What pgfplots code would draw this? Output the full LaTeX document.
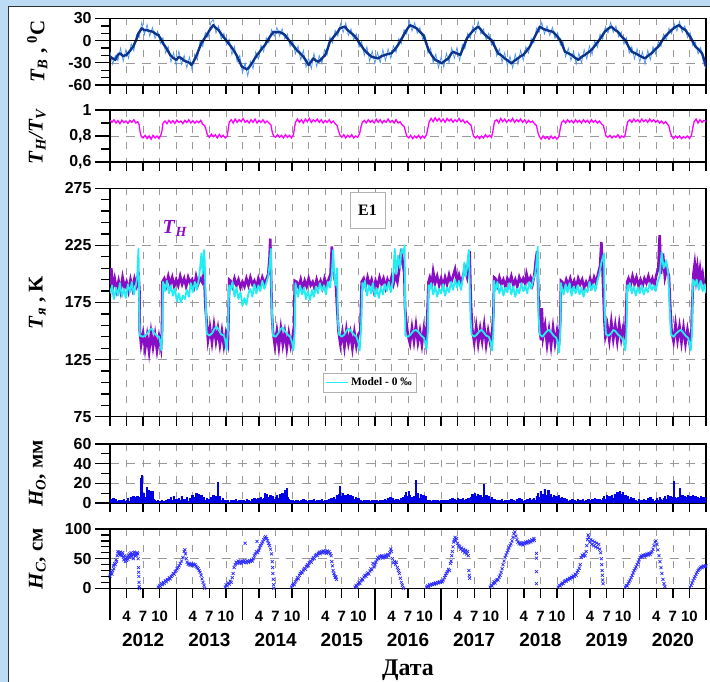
\documentclass[border=0pt]{standalone}
\usepackage{fontspec}
\setmainfont{Liberation Serif}
\newfontfamily\arial{Liberation Sans}
\usepackage{pgfplots}
\pgfplotsset{compat=1.18}
\definecolor{bgblue}{HTML}{BCDCF6}
\definecolor{tbdark}{HTML}{0B348F}
\definecolor{tblight}{HTML}{4F95EE}
\definecolor{ratio}{HTML}{FF00FF}
\definecolor{tnpurple}{HTML}{8A0DC6}
\definecolor{model}{HTML}{22EEF2}
\definecolor{hoblue}{HTML}{0000E6}
\definecolor{hcblue}{HTML}{2B2BFF}
\definecolor{gridgray}{HTML}{9A9A9A}
\pgfplotsset{
  panel/.style={
    scale only axis, width=596bp, xmin=0, xmax=9, anchor=south west,
    axis line style={line width=1.4bp},
    tick align=outside, xtick pos=left, ytick pos=left,
    major tick length=15bp,
    every tick/.style={black, line width=1.3bp},
    xtick=\empty, ymajorgrids=true,
    major grid style={gridgray, line width=0.6bp, dash pattern=on 9bp off 7bp},
    /pgf/number format/assume math mode=true,
    yticklabel style={font=\arial\bfseries\fontsize{16}{16}\selectfont},
    every axis y label/.style={at={(axis description cs:-0.122,0.5)}, anchor=center, rotate=90, font=\bfseries\fontsize{21}{21}\selectfont},
  },
  overlay/.style={
    scale only axis, width=596bp, height=59.3bp, xmin=0, xmax=9, ymin=0, ymax=1,
    at={(110bp,93.7bp)}, anchor=south west,
    axis x line*=bottom, hide y axis, axis line style={draw=none},
    tick align=outside, every tick/.style={black, line width=1.3bp},
    /pgf/number format/assume math mode=true,
  },
}
\begin{document}
\begin{tikzpicture}
\path[use as bounding box] (0,0) rectangle (710bp,682bp);
\fill[bgblue] (0,0) rectangle (710bp,682bp);
\filldraw[fill=white, draw=black!80, line width=0.9bp] (8.5bp,-5bp) rectangle (720bp,675.5bp);

% vertical dashed grid (every 3 months) behind the data
\begin{scope}[gridgray, line width=0.6bp, dash pattern=on 7bp off 9bp]
\foreach \yb/\yt in {597/663.5, 520/572, 265.3/493.7, 179/238, 93.7/153}{
  \foreach \i in {1,...,35}{
    \pgfmathsetmacro\xx{110+\i*16.55556}
    \draw (\xx bp,\yt bp) -- (\xx bp,\yb bp);
  }}
\end{scope}

% ---------- Panel 1: air temperature ----------
\begin{axis}[panel, at={(110bp,597bp)}, height=66.5bp, ymin=-60, ymax=30,
  ytick={-60,-30,0,30}, yticklabels={-60,-30,0,30},
  ylabel={\textit{T}\textsubscript{\textit{B}} , \textsuperscript{0}C}]
\addplot[tblight, line width=0.7bp] coordinates {
(0.00,-15) (0.04,-32) (0.08,-20) (0.12,-27) (0.16,-10) (0.20,-28) (0.24,-12) (0.28,-24) (0.32,-4) (0.36,-14) (0.40,8) (0.44,4) (0.48,25) (0.52,8) (0.56,22) (0.60,6) (0.64,18) (0.68,3) (0.72,13) (0.76,-4) (0.80,4) (0.84,-17) (0.88,-8) (0.92,-29) (0.96,-16) (1.00,-34) (1.04,-14) (1.08,-32) (1.12,-20) (1.16,-37) (1.20,-22) (1.24,-40) (1.28,-18) (1.32,-26) (1.36,0) (1.40,-8) (1.44,11) (1.48,4) (1.52,24) (1.56,29) (1.60,10) (1.64,20) (1.68,2) (1.72,10) (1.76,-6) (1.80,2) (1.84,-19) (1.88,-8) (1.92,-29) (1.96,-20) (2.00,-44) (2.04,-30) (2.08,-48) (2.12,-28) (2.16,-38) (2.20,-15) (2.24,-25) (2.28,-6) (2.32,-15) (2.36,4) (2.40,-3) (2.44,15) (2.48,6) (2.52,18) (2.56,6) (2.60,16) (2.64,2) (2.68,9) (2.72,-8) (2.76,0) (2.80,-18) (2.84,-7) (2.88,-26) (2.92,-13) (2.96,-36) (3.00,-24) (3.04,-38) (3.08,-17) (3.12,-35) (3.16,-20) (3.20,-31) (3.24,-12) (3.28,-19) (3.32,5) (3.36,-3) (3.40,14) (3.44,6) (3.48,23) (3.52,11) (3.56,24) (3.60,7) (3.64,16) (3.68,1) (3.72,9) (3.76,-9) (3.80,-1) (3.84,-20) (3.88,-8) (3.92,-28) (3.96,-14) (4.00,-31) (4.04,-16) (4.08,-30) (4.12,-12) (4.16,-27) (4.20,-11) (4.24,-24) (4.28,-7) (4.32,-16) (4.36,3) (4.40,-4) (4.44,15) (4.48,9) (4.52,27) (4.56,13) (4.60,24) (4.64,10) (4.68,18) (4.72,2) (4.76,6) (4.80,-17) (4.84,-10) (4.88,-30) (4.92,-18) (4.96,-37) (5.00,-22) (5.04,-36) (5.08,-17) (5.12,-30) (5.16,-10) (5.20,-24) (5.24,-9) (5.28,-27) (5.32,-5) (5.36,-11) (5.40,10) (5.44,3) (5.48,20) (5.52,10) (5.56,26) (5.60,9) (5.64,16) (5.68,1) (5.72,10) (5.76,-6) (5.80,1) (5.84,-21) (5.88,-11) (5.92,-29) (5.96,-16) (6.00,-34) (6.04,-21) (6.08,-37) (6.12,-18) (6.16,-32) (6.20,-13) (6.24,-27) (6.28,-8) (6.32,-17) (6.36,3) (6.40,-3) (6.44,17) (6.48,11) (6.52,25) (6.56,9) (6.60,20) (6.64,7) (6.68,18) (6.72,3) (6.76,11) (6.80,-6) (6.84,-1) (6.88,-22) (6.92,-10) (6.96,-27) (7.00,-14) (7.04,-32) (7.08,-17) (7.12,-30) (7.16,-12) (7.20,-25) (7.24,-7) (7.28,-19) (7.32,0) (7.36,-9) (7.40,9) (7.44,2) (7.48,19) (7.52,10) (7.56,25) (7.60,11) (7.64,20) (7.68,5) (7.72,12) (7.76,-5) (7.80,4) (7.84,-17) (7.88,-8) (7.92,-25) (7.96,-11) (8.00,-29) (8.04,-15) (8.08,-32) (8.12,-13) (8.16,-26) (8.20,-8) (8.24,-18) (8.28,-1) (8.32,-8) (8.36,9) (8.40,1) (8.44,17) (8.48,9) (8.52,23) (8.56,13) (8.60,26) (8.64,11) (8.68,20) (8.72,4) (8.76,11) (8.80,-7) (8.84,-2) (8.88,-18) (8.92,-9) (8.96,-30) (9.00,-38)};
\addplot[tbdark, line width=2.4bp, line join=round] coordinates {
(0.00,-21.7) (0.04,-24) (0.08,-26) (0.12,-19) (0.15,-17) (0.20,-21) (0.25,-19) (0.30,-14) (0.35,-8) (0.40,2) (0.43,10) (0.48,16.7) (0.52,14) (0.55,14.4) (0.60,13) (0.65,12) (0.69,9) (0.73,7.7) (0.77,2) (0.80,-3.6) (0.85,-10) (0.91,-19.4) (0.95,-23) (1.00,-26) (1.04,-22) (1.08,-24) (1.12,-27) (1.16,-28.5) (1.20,-30) (1.23,-33) (1.27,-27) (1.31,-19.4) (1.35,-10) (1.38,-3.6) (1.42,2) (1.46,7.7) (1.51,15) (1.56,21) (1.60,17) (1.64,14.4) (1.68,9) (1.71,5.4) (1.76,0) (1.81,-5.9) (1.86,-12) (1.91,-19.4) (1.95,-27) (1.99,-35) (2.03,-37) (2.07,-39) (2.10,-36) (2.14,-31) (2.18,-25) (2.22,-19.4) (2.26,-15) (2.30,-10) (2.34,-6) (2.37,-1.4) (2.42,6) (2.47,12) (2.51,11) (2.55,12) (2.60,10) (2.64,7.7) (2.68,3) (2.72,-1.4) (2.77,-7) (2.82,-12.6) (2.87,-17) (2.92,-21.7) (2.96,-27) (3.00,-33) (3.04,-28) (3.07,-24) (3.11,-27) (3.15,-28.5) (3.20,-24) (3.25,-19.4) (3.29,-10) (3.32,-1.4) (3.36,3) (3.40,7.7) (3.44,12) (3.47,16.7) (3.51,18) (3.55,19) (3.58,15) (3.62,12) (3.66,9) (3.70,5.4) (3.72,3.2) (3.78,-5) (3.84,-12.6) (3.90,-18) (3.95,-21.7) (4.00,-23) (4.05,-24) (4.10,-21) (4.15,-19.4) (4.20,-18) (4.25,-17) (4.30,-12) (4.35,-5.9) (4.40,2) (4.45,10) (4.49,16) (4.53,21) (4.58,19) (4.63,16.7) (4.68,12) (4.73,7.7) (4.77,-2) (4.81,-12.6) (4.86,-20) (4.91,-26) (4.96,-28) (5.01,-30.8) (5.06,-27) (5.11,-24) (5.15,-18) (5.18,-15) (5.23,-17) (5.29,-19.4) (5.34,-8) (5.39,3.2) (5.44,9) (5.49,14.4) (5.53,17) (5.56,19) (5.60,15) (5.64,10) (5.70,5) (5.76,0.8) (5.81,-8) (5.86,-17) (5.91,-20) (5.96,-24) (6.01,-27) (6.06,-30.8) (6.11,-27) (6.16,-24) (6.20,-21) (6.24,-19.4) (6.29,-14) (6.34,-8) (6.39,1) (6.44,10) (6.47,15) (6.49,19) (6.54,16) (6.59,14.4) (6.64,13) (6.69,12) (6.75,6) (6.80,0.8) (6.84,-8) (6.87,-15) (6.92,-17) (6.97,-19.4) (7.02,-23) (7.07,-26) (7.12,-22) (7.17,-19.4) (7.22,-16) (7.27,-12.6) (7.32,-7) (7.37,-1.4) (7.42,5) (7.47,12) (7.52,16) (7.57,19) (7.62,15) (7.67,12) (7.72,6) (7.78,0.8) (7.83,-8) (7.88,-15) (7.93,-17) (7.98,-19.4) (8.03,-22) (8.08,-24) (8.13,-20) (8.18,-17) (8.23,-12) (8.28,-8) (8.33,-1) (8.38,5.4) (8.43,10) (8.48,14.4) (8.53,18) (8.59,21) (8.64,17) (8.69,14.4) (8.73,9) (8.76,5.4) (8.80,-1) (8.84,-8) (8.89,-12) (8.94,-17) (8.97,-25) (9.00,-35)};
\addplot[black, line width=1.2bp] coordinates {(0,0) (9,0)};
\end{axis}

% ---------- Panel 2: TH/TV ----------
\begin{axis}[panel, at={(110bp,520bp)}, height=52bp, ymin=0.6, ymax=1,
  ytick={0.6,0.8,1}, yticklabels={{0,6},{0,8},1},
  ylabel={\textit{T}\textsubscript{\textit{H}}\textit{/T}\textsubscript{\textit{V}}}]
\addplot[ratio, line width=1.3bp] coordinates {
(0.00,0.92) (0.03,0.905) (0.06,0.925) (0.09,0.90) (0.12,0.918) (0.15,0.895) (0.18,0.922) (0.21,0.903) (0.24,0.915) (0.27,0.898) (0.30,0.92) (0.33,0.905) (0.36,0.925) (0.39,0.90) (0.42,0.91) (0.44,0.885) (0.455,0.83) (0.47,0.80) (0.50,0.785) (0.53,0.805) (0.56,0.78) (0.59,0.80) (0.62,0.775) (0.65,0.805) (0.68,0.785) (0.71,0.80) (0.74,0.78) (0.77,0.81) (0.785,0.84) (0.80,0.90)
(0.83,0.915) (0.86,0.895) (0.89,0.92) (0.92,0.90) (0.95,0.918) (0.98,0.897) (1.01,0.922) (1.04,0.905) (1.07,0.915) (1.10,0.895) (1.13,0.92) (1.16,0.903) (1.19,0.925) (1.22,0.90) (1.25,0.918) (1.28,0.898) (1.31,0.915) (1.34,0.902) (1.37,0.92) (1.40,0.89) (1.43,0.88) (1.455,0.84) (1.47,0.81) (1.50,0.79) (1.53,0.815) (1.56,0.795) (1.59,0.81) (1.62,0.785) (1.65,0.812) (1.68,0.79) (1.71,0.805) (1.74,0.785) (1.77,0.80) (1.785,0.85) (1.80,0.905)
(1.83,0.925) (1.86,0.90) (1.89,0.93) (1.92,0.905) (1.95,0.925) (1.98,0.91) (2.01,0.935) (2.04,0.905) (2.07,0.92) (2.10,0.90) (2.13,0.925) (2.16,0.905) (2.19,0.93) (2.22,0.90) (2.25,0.92) (2.28,0.905) (2.31,0.925) (2.34,0.90) (2.37,0.915) (2.40,0.90) (2.43,0.885) (2.45,0.83) (2.47,0.80) (2.50,0.79) (2.53,0.81) (2.56,0.79) (2.59,0.805) (2.62,0.785) (2.65,0.81) (2.68,0.79) (2.71,0.805) (2.74,0.785) (2.77,0.81) (2.785,0.86) (2.80,0.905)
(2.83,0.93) (2.86,0.905) (2.89,0.925) (2.92,0.90) (2.95,0.93) (2.98,0.91) (3.01,0.935) (3.04,0.905) (3.07,0.925) (3.10,0.91) (3.13,0.93) (3.16,0.905) (3.19,0.925) (3.22,0.90) (3.25,0.92) (3.28,0.905) (3.31,0.925) (3.34,0.90) (3.37,0.915) (3.40,0.895) (3.43,0.88) (3.45,0.84) (3.47,0.81) (3.50,0.79) (3.53,0.81) (3.56,0.785) (3.59,0.805) (3.62,0.79) (3.65,0.81) (3.68,0.785) (3.71,0.80) (3.74,0.79) (3.77,0.82) (3.79,0.87) (3.81,0.905)
(3.84,0.92) (3.87,0.90) (3.90,0.925) (3.93,0.905) (3.96,0.92) (3.99,0.90) (4.02,0.93) (4.05,0.905) (4.08,0.925) (4.11,0.90) (4.14,0.92) (4.17,0.905) (4.20,0.93) (4.23,0.905) (4.26,0.92) (4.29,0.90) (4.32,0.925) (4.35,0.90) (4.38,0.91) (4.41,0.885) (4.44,0.875) (4.46,0.84) (4.48,0.80) (4.51,0.785) (4.54,0.805) (4.57,0.78) (4.60,0.80) (4.63,0.785) (4.66,0.805) (4.69,0.78) (4.72,0.80) (4.75,0.785) (4.78,0.81) (4.80,0.86) (4.82,0.91)
(4.85,0.935) (4.88,0.91) (4.91,0.94) (4.94,0.915) (4.97,0.935) (5.00,0.91) (5.03,0.93) (5.06,0.905) (5.09,0.935) (5.12,0.915) (5.15,0.93) (5.18,0.905) (5.21,0.925) (5.24,0.91) (5.27,0.935) (5.30,0.91) (5.33,0.925) (5.36,0.90) (5.39,0.915) (5.42,0.895) (5.45,0.885) (5.47,0.84) (5.49,0.80) (5.52,0.785) (5.55,0.80) (5.58,0.78) (5.61,0.80) (5.64,0.785) (5.67,0.81) (5.70,0.79) (5.73,0.805) (5.76,0.79) (5.78,0.83) (5.795,0.88) (5.81,0.915)
(5.84,0.925) (5.87,0.90) (5.90,0.935) (5.93,0.91) (5.96,0.93) (5.99,0.905) (6.02,0.925) (6.05,0.91) (6.08,0.935) (6.11,0.905) (6.14,0.925) (6.17,0.91) (6.20,0.93) (6.23,0.905) (6.26,0.925) (6.29,0.90) (6.32,0.92) (6.35,0.905) (6.38,0.915) (6.41,0.895) (6.44,0.88) (6.46,0.83) (6.48,0.80) (6.51,0.775) (6.54,0.80) (6.57,0.78) (6.60,0.795) (6.63,0.775) (6.66,0.80) (6.69,0.78) (6.72,0.795) (6.75,0.775) (6.78,0.80) (6.80,0.86) (6.82,0.905)
(6.85,0.92) (6.88,0.90) (6.91,0.925) (6.94,0.905) (6.97,0.92) (7.00,0.90) (7.03,0.925) (7.06,0.905) (7.09,0.92) (7.12,0.90) (7.15,0.925) (7.18,0.905) (7.21,0.92) (7.24,0.90) (7.27,0.925) (7.30,0.905) (7.33,0.92) (7.36,0.90) (7.39,0.915) (7.42,0.895) (7.45,0.88) (7.47,0.84) (7.49,0.80) (7.52,0.79) (7.55,0.805) (7.58,0.785) (7.61,0.80) (7.64,0.79) (7.67,0.81) (7.70,0.785) (7.73,0.80) (7.76,0.79) (7.78,0.81) (7.80,0.87) (7.82,0.91)
(7.85,0.925) (7.88,0.905) (7.91,0.93) (7.94,0.91) (7.97,0.925) (8.00,0.905) (8.03,0.93) (8.06,0.91) (8.09,0.925) (8.12,0.905) (8.15,0.93) (8.18,0.91) (8.21,0.925) (8.24,0.905) (8.27,0.92) (8.30,0.90) (8.33,0.915) (8.36,0.895) (8.39,0.91) (8.42,0.89) (8.44,0.875) (8.46,0.83) (8.48,0.80) (8.51,0.78) (8.54,0.80) (8.57,0.785) (8.60,0.80) (8.63,0.78) (8.66,0.795) (8.69,0.785) (8.72,0.80) (8.75,0.78) (8.78,0.805) (8.80,0.86) (8.82,0.91)
(8.85,0.93) (8.88,0.90) (8.91,0.925) (8.94,0.905) (8.97,0.92) (9.00,0.91)};
\end{axis}

% ---------- Panel 3: T ----------
\begin{axis}[panel, at={(110bp,265.3bp)}, height=228.4bp, ymin=75, ymax=275,
  ytick={75,125,175,225,275},
  ylabel={\textit{T}\textsubscript{\textit{я}} , K},
  legend style={at={(0.357,0.191)}, anchor=north west, draw=gray!60, fill=white,
    font=\bfseries\fontsize{11.5}{11.5}\selectfont, inner sep=2.5bp, row sep=0pt},
  legend image code/.code={\draw[#1, line width=1.6bp] (0bp,0bp) -- (22bp,0bp);}]
\addplot[tnpurple, line width=2.6bp, forget plot] coordinates {
(0.00,190) (0.02,205) (0.04,188) (0.07,196) (0.10,186) (0.13,194) (0.16,185) (0.19,197) (0.22,188) (0.25,193) (0.28,185) (0.31,195) (0.34,187) (0.37,196) (0.40,190) (0.42,198) (0.43,202) (0.445,185) (0.45,150) (0.47,138) (0.50,148) (0.53,134) (0.56,146) (0.59,132) (0.62,149) (0.65,136) (0.68,147) (0.71,133) (0.74,145) (0.77,135) (0.785,150) (0.79,193)
(0.82,196) (0.85,190) (0.88,198) (0.91,191) (0.94,197) (0.97,189) (1.00,195) (1.03,190) (1.06,198) (1.09,191) (1.12,196) (1.15,189) (1.18,197) (1.21,192) (1.24,195) (1.27,189) (1.30,198) (1.33,191) (1.36,196) (1.39,193) (1.42,205) (1.44,172) (1.46,158) (1.48,142) (1.51,153) (1.54,140) (1.57,155) (1.60,141) (1.63,152) (1.66,138) (1.69,150) (1.72,137) (1.75,148) (1.78,140) (1.79,160) (1.80,195)
(1.82,194) (1.85,189) (1.88,196) (1.91,190) (1.94,195) (1.97,188) (2.00,193) (2.03,189) (2.06,196) (2.09,190) (2.12,197) (2.15,191) (2.18,194) (2.21,188) (2.24,196) (2.27,190) (2.30,197) (2.33,192) (2.36,195) (2.39,200) (2.41,215) (2.42,231) (2.43,205) (2.445,165) (2.46,150) (2.49,137) (2.52,150) (2.55,136) (2.58,152) (2.61,138) (2.64,149) (2.67,135) (2.70,148) (2.73,137) (2.76,146) (2.78,155) (2.79,194)
(2.82,193) (2.85,188) (2.88,195) (2.91,187) (2.94,194) (2.97,189) (3.00,196) (3.03,190) (3.06,193) (3.09,187) (3.12,195) (3.15,189) (3.18,194) (3.21,188) (3.24,196) (3.27,190) (3.30,195) (3.33,200) (3.35,224) (3.37,205) (3.39,196) (3.41,192) (3.43,170) (3.45,150) (3.48,138) (3.51,149) (3.54,136) (3.57,151) (3.60,139) (3.63,148) (3.66,135) (3.69,149) (3.72,137) (3.75,147) (3.78,150) (3.80,193)
(3.83,196) (3.86,189) (3.89,197) (3.92,190) (3.95,195) (3.98,186) (4.01,194) (4.04,189) (4.07,197) (4.10,191) (4.13,196) (4.16,188) (4.19,195) (4.22,190) (4.25,197) (4.28,191) (4.31,199) (4.34,193) (4.37,205) (4.40,222) (4.42,210) (4.445,200) (4.455,171) (4.47,160) (4.50,146) (4.53,139) (4.56,153) (4.59,141) (4.62,155) (4.65,140) (4.68,150) (4.71,138) (4.74,152) (4.77,140) (4.79,160) (4.81,193)
(4.83,197) (4.86,191) (4.88,202) (4.91,192) (4.94,198) (4.97,190) (5.00,196) (5.03,189) (5.06,197) (5.09,191) (5.12,199) (5.15,192) (5.18,198) (5.21,204) (5.24,193) (5.27,199) (5.30,192) (5.33,198) (5.36,205) (5.39,198) (5.41,212) (5.43,220) (5.45,175) (5.47,152) (5.50,140) (5.53,154) (5.56,139) (5.59,152) (5.62,141) (5.65,155) (5.68,138) (5.71,150) (5.74,140) (5.77,148) (5.79,165) (5.80,197)
(5.82,196) (5.85,190) (5.88,197) (5.91,191) (5.94,195) (5.97,189) (6.00,196) (6.03,192) (6.06,198) (6.09,190) (6.12,195) (6.15,189) (6.18,197) (6.21,192) (6.24,196) (6.27,191) (6.29,200) (6.32,193) (6.35,197) (6.38,191) (6.41,200) (6.43,212) (6.45,220) (6.47,180) (6.49,150) (6.51,142) (6.52,170) (6.54,145) (6.57,155) (6.60,138) (6.63,151) (6.66,137) (6.69,153) (6.72,139) (6.75,150) (6.78,138) (6.80,160) (6.81,194)
(6.83,193) (6.86,188) (6.89,195) (6.92,190) (6.95,196) (6.98,189) (7.01,194) (7.04,188) (7.07,196) (7.10,191) (7.13,195) (7.16,188) (7.19,193) (7.22,189) (7.25,196) (7.28,190) (7.31,197) (7.34,192) (7.37,200) (7.40,207) (7.42,228) (7.44,200) (7.465,160) (7.48,146) (7.51,155) (7.54,142) (7.57,158) (7.60,143) (7.63,155) (7.66,141) (7.69,156) (7.72,143) (7.75,153) (7.78,145) (7.79,160) (7.81,193)
(7.83,196) (7.86,190) (7.89,198) (7.92,191) (7.95,197) (7.98,190) (8.01,195) (8.04,189) (8.07,196) (8.10,192) (8.13,198) (8.16,191) (8.19,196) (8.22,190) (8.25,199) (8.28,205) (8.30,234) (8.32,200) (8.35,218) (8.38,197) (8.41,205) (8.44,198) (8.46,172) (8.48,150) (8.51,141) (8.54,156) (8.57,142) (8.60,154) (8.63,140) (8.66,153) (8.69,139) (8.72,151) (8.75,140) (8.78,148) (8.79,170) (8.81,200)
(8.83,209) (8.85,196) (8.87,206) (8.89,195) (8.91,204) (8.93,194) (8.95,200) (8.97,191) (9.00,190)};
\addplot[model, line width=1.8bp, line join=round] coordinates {
(0.00,183) (0.03,190) (0.06,178) (0.09,188) (0.12,181) (0.15,192) (0.18,180) (0.21,187) (0.24,179) (0.27,191) (0.30,184) (0.33,193) (0.36,182) (0.39,190) (0.41,196) (0.42,210) (0.43,222) (0.44,180) (0.45,146) (0.50,145) (0.55,147) (0.60,151) (0.63,152) (0.66,149) (0.70,146) (0.74,145) (0.76,140) (0.775,133) (0.79,150) (0.80,193)
(0.83,185) (0.86,194) (0.89,183) (0.92,190) (0.95,181) (0.98,187) (1.01,176) (1.04,183) (1.07,175) (1.10,181) (1.13,178) (1.16,186) (1.19,180) (1.22,192) (1.25,184) (1.28,193) (1.31,186) (1.34,195) (1.36,205) (1.38,218) (1.40,200) (1.42,221) (1.43,212) (1.445,175) (1.46,148) (1.50,146) (1.54,148) (1.58,152) (1.61,154) (1.64,151) (1.68,147) (1.72,146) (1.74,142) (1.76,133) (1.78,150) (1.80,190)
(1.82,186) (1.85,193) (1.88,180) (1.91,188) (1.94,178) (1.97,184) (2.00,172) (2.03,179) (2.06,173) (2.09,183) (2.12,187) (2.15,180) (2.18,191) (2.21,183) (2.24,190) (2.27,185) (2.30,194) (2.33,187) (2.36,192) (2.39,198) (2.41,208) (2.43,222) (2.44,175) (2.46,146) (2.50,145) (2.54,148) (2.58,152) (2.61,153) (2.64,150) (2.68,147) (2.72,145) (2.75,140) (2.77,133) (2.79,150) (2.80,192)
(2.81,188) (2.84,180) (2.87,190) (2.90,182) (2.93,188) (2.96,178) (2.99,185) (3.02,177) (3.05,186) (3.08,180) (3.11,189) (3.14,183) (3.17,192) (3.20,185) (3.23,190) (3.26,182) (3.29,193) (3.32,188) (3.35,200) (3.37,221) (3.39,195) (3.41,190) (3.43,205) (3.44,160) (3.46,147) (3.50,145) (3.54,147) (3.58,151) (3.61,152) (3.64,150) (3.68,147) (3.72,145) (3.75,140) (3.77,133) (3.79,150) (3.81,192)
(3.82,186) (3.85,194) (3.88,181) (3.91,190) (3.94,183) (3.97,192) (4.00,180) (4.03,187) (4.06,179) (4.09,189) (4.12,182) (4.15,191) (4.18,185) (4.21,193) (4.24,184) (4.27,192) (4.30,222) (4.32,200) (4.35,216) (4.38,205) (4.40,222) (4.43,218) (4.45,225) (4.46,146) (4.50,145) (4.54,147) (4.58,150) (4.62,151) (4.66,149) (4.70,146) (4.74,144) (4.76,140) (4.78,134) (4.80,150) (4.81,190)
(4.82,185) (4.85,192) (4.88,182) (4.91,189) (4.94,180) (4.97,187) (5.00,183) (5.03,191) (5.06,181) (5.09,188) (5.12,184) (5.15,193) (5.18,186) (5.21,195) (5.24,188) (5.27,194) (5.30,186) (5.33,197) (5.35,210) (5.37,198) (5.39,205) (5.42,221) (5.445,160) (5.46,147) (5.50,145) (5.54,147) (5.58,150) (5.61,151) (5.64,149) (5.68,146) (5.72,145) (5.75,140) (5.77,133) (5.79,150) (5.80,194)
(5.82,185) (5.85,193) (5.88,183) (5.91,190) (5.94,181) (5.97,188) (6.00,184) (6.03,192) (6.06,182) (6.09,189) (6.12,180) (6.15,187) (6.18,183) (6.21,192) (6.24,185) (6.27,190) (6.30,183) (6.33,193) (6.36,187) (6.39,195) (6.42,200) (6.44,210) (6.46,224) (6.47,165) (6.49,147) (6.53,145) (6.57,148) (6.60,150) (6.63,151) (6.66,149) (6.70,146) (6.74,144) (6.76,140) (6.78,131) (6.80,150) (6.81,192)
(6.82,188) (6.85,182) (6.88,191) (6.91,184) (6.94,192) (6.97,181) (7.00,189) (7.03,183) (7.06,190) (7.09,182) (7.12,188) (7.15,180) (7.18,187) (7.21,184) (7.24,193) (7.27,186) (7.30,191) (7.33,185) (7.36,194) (7.39,200) (7.42,210) (7.46,218) (7.47,165) (7.49,147) (7.53,146) (7.57,148) (7.60,151) (7.63,150) (7.67,147) (7.71,145) (7.75,142) (7.78,133) (7.80,150) (7.81,190)
(7.82,185) (7.85,192) (7.88,183) (7.91,189) (7.94,181) (7.97,188) (8.00,183) (8.03,190) (8.06,182) (8.09,188) (8.12,184) (8.15,192) (8.18,186) (8.21,190) (8.24,185) (8.27,193) (8.30,198) (8.33,219) (8.36,205) (8.40,212) (8.43,200) (8.455,165) (8.47,147) (8.51,145) (8.55,148) (8.59,150) (8.62,151) (8.65,149) (8.69,146) (8.73,144) (8.75,140) (8.77,133) (8.79,150) (8.80,195)
(8.83,190) (8.86,195) (8.89,186) (8.92,194) (8.95,185) (8.98,191) (9.00,183)};
\addlegendentry{Model - 0 ‰}
\node[draw=gray!60, fill=white, minimum width=35bp, minimum height=36bp, inner sep=0pt,
  font=\bfseries\fontsize{16}{16}\selectfont] at (rel axis cs:0.432,0.905) {E1};
\node[text=tnpurple, font=\bfseries\fontsize{20}{20}\selectfont] at (rel axis cs:0.109,0.826)
  {\textit{T}\textsubscript{\textit{H}}};
\end{axis}

% ---------- Panel 4: precipitation ----------
\begin{axis}[panel, at={(110bp,179bp)}, height=59bp, ymin=0, ymax=60,
  ytick={0,20,40,60},
  ylabel={\textit{H}\textsubscript{\textit{O}}, мм}]
\addplot[hoblue, fill=hoblue, const plot, line width=0.5bp] coordinates {
(0.00,4) (0.02,2) (0.04,5) (0.06,3) (0.08,4) (0.10,2) (0.12,3) (0.14,1) (0.16,3) (0.18,2) (0.20,4) (0.22,2) (0.24,3) (0.26,5) (0.28,2) (0.30,6) (0.32,4) (0.34,7) (0.36,5) (0.38,6) (0.40,7) (0.42,5) (0.44,6) (0.455,25) (0.465,12) (0.475,28) (0.485,8) (0.50,10) (0.52,6) (0.545,16) (0.56,9) (0.575,13) (0.59,7) (0.605,12) (0.62,5) (0.635,12) (0.65,4) (0.67,3) (0.69,2) (0.71,3) (0.73,1) (0.75,2) (0.77,3) (0.79,1) (0.81,2) (0.83,3) (0.85,2) (0.87,4) (0.89,2) (0.91,6) (0.93,3) (0.95,7) (0.97,2)
(0.99,4) (1.01,2) (1.03,5) (1.05,3) (1.07,7) (1.09,2) (1.11,4) (1.13,3) (1.15,6) (1.17,2) (1.19,5) (1.21,3) (1.23,8) (1.25,4) (1.27,6) (1.29,10) (1.31,7) (1.33,9) (1.35,5) (1.37,8) (1.39,4) (1.41,6) (1.43,3) (1.45,5) (1.47,2) (1.49,4) (1.51,6) (1.53,3) (1.55,8) (1.57,4) (1.59,7) (1.61,3) (1.62,21) (1.63,5) (1.65,7) (1.67,3) (1.69,5) (1.71,2) (1.73,3) (1.75,2) (1.77,3) (1.79,1) (1.81,3) (1.83,2) (1.85,3) (1.87,2) (1.89,4) (1.91,2) (1.93,3) (1.95,2) (1.97,3)
(1.99,2) (2.01,3) (2.03,2) (2.05,4) (2.07,2) (2.09,3) (2.11,2) (2.13,4) (2.15,3) (2.17,5) (2.19,3) (2.21,4) (2.23,5) (2.25,3) (2.27,6) (2.29,4) (2.31,5) (2.33,10) (2.35,9) (2.37,4) (2.39,6) (2.41,8) (2.43,5) (2.45,7) (2.47,4) (2.49,6) (2.51,8) (2.53,5) (2.55,9) (2.57,6) (2.59,10) (2.61,7) (2.63,13) (2.65,8) (2.66,15) (2.67,6) (2.69,4) (2.71,3) (2.73,2) (2.75,3) (2.77,2) (2.79,3) (2.81,2) (2.83,3) (2.85,2) (2.87,3) (2.89,2) (2.91,4) (2.93,2) (2.95,3) (2.97,2)
(2.99,3) (3.01,2) (3.03,3) (3.05,2) (3.07,4) (3.09,2) (3.11,3) (3.13,2) (3.15,3) (3.17,2) (3.19,4) (3.21,2) (3.23,3) (3.25,2) (3.27,3) (3.29,4) (3.31,2) (3.33,5) (3.35,3) (3.37,6) (3.39,4) (3.41,8) (3.43,5) (3.45,9) (3.465,17) (3.48,7) (3.50,10) (3.52,6) (3.54,8) (3.56,5) (3.58,9) (3.60,6) (3.62,8) (3.64,5) (3.66,7) (3.68,4) (3.70,6) (3.72,3) (3.74,5) (3.76,2) (3.78,3) (3.80,2) (3.82,3) (3.84,2) (3.86,3) (3.88,2) (3.90,3) (3.92,2) (3.94,3) (3.96,2) (3.98,3)
(4.00,2) (4.02,3) (4.04,2) (4.06,3) (4.08,2) (4.10,3) (4.12,2) (4.14,4) (4.16,3) (4.18,5) (4.20,3) (4.22,6) (4.24,4) (4.26,5) (4.28,3) (4.30,4) (4.32,2) (4.34,4) (4.36,3) (4.38,5) (4.40,4) (4.42,6) (4.44,8) (4.46,11) (4.48,7) (4.50,12) (4.52,8) (4.54,6) (4.56,5) (4.58,7) (4.60,4) (4.61,23) (4.62,6) (4.64,10) (4.66,5) (4.68,9) (4.70,4) (4.72,8) (4.74,5) (4.76,7) (4.78,3) (4.80,2) (4.82,3) (4.84,2) (4.86,3) (4.88,2) (4.90,3) (4.92,2) (4.94,3) (4.96,2) (4.98,3)
(5.00,2) (5.02,3) (5.04,2) (5.06,3) (5.08,2) (5.10,3) (5.12,4) (5.14,3) (5.16,5) (5.18,3) (5.20,4) (5.22,3) (5.24,5) (5.26,3) (5.28,4) (5.30,3) (5.32,5) (5.34,3) (5.36,4) (5.38,3) (5.40,5) (5.42,4) (5.44,6) (5.46,9) (5.48,6) (5.50,10) (5.52,7) (5.54,9) (5.56,5) (5.58,8) (5.60,4) (5.62,6) (5.64,19) (5.65,6) (5.67,8) (5.69,5) (5.71,7) (5.73,4) (5.75,6) (5.77,3) (5.79,4) (5.81,2) (5.83,3) (5.85,2) (5.87,3) (5.89,2) (5.91,4) (5.93,2) (5.95,3) (5.97,2) (5.99,3)
(6.01,2) (6.03,3) (6.05,4) (6.07,2) (6.09,3) (6.11,2) (6.13,4) (6.15,3) (6.17,5) (6.19,3) (6.21,4) (6.23,2) (6.25,3) (6.27,2) (6.29,4) (6.31,3) (6.33,5) (6.35,3) (6.37,4) (6.39,5) (6.41,3) (6.43,7) (6.45,10) (6.47,6) (6.49,12) (6.51,7) (6.53,9) (6.55,14) (6.57,8) (6.59,6) (6.61,13) (6.63,7) (6.65,9) (6.67,6) (6.69,8) (6.71,5) (6.73,7) (6.75,4) (6.77,8) (6.79,5) (6.81,6) (6.83,3) (6.85,5) (6.87,3) (6.89,4) (6.91,2) (6.93,3) (6.95,2) (6.97,4) (6.99,2)
(7.01,3) (7.03,2) (7.05,4) (7.07,2) (7.09,3) (7.11,2) (7.13,4) (7.15,2) (7.17,3) (7.19,2) (7.21,4) (7.23,3) (7.25,2) (7.27,4) (7.29,3) (7.31,5) (7.33,3) (7.35,4) (7.37,2) (7.39,4) (7.41,3) (7.43,5) (7.45,7) (7.47,4) (7.49,8) (7.51,5) (7.53,7) (7.55,4) (7.57,8) (7.59,5) (7.61,9) (7.63,6) (7.65,11) (7.67,8) (7.69,12) (7.71,9) (7.73,11) (7.75,6) (7.77,8) (7.79,5) (7.81,7) (7.83,4) (7.85,6) (7.87,3) (7.89,5) (7.91,2) (7.93,3) (7.95,2) (7.97,4) (7.99,2)
(8.01,3) (8.03,2) (8.05,4) (8.07,2) (8.09,3) (8.11,5) (8.13,3) (8.15,6) (8.17,3) (8.19,4) (8.21,2) (8.23,3) (8.25,5) (8.27,3) (8.29,6) (8.31,4) (8.33,3) (8.35,5) (8.37,7) (8.39,4) (8.41,8) (8.43,5) (8.45,7) (8.47,4) (8.49,6) (8.51,22) (8.52,6) (8.54,5) (8.56,6) (8.58,4) (8.60,15) (8.615,6) (8.63,8) (8.65,5) (8.67,7) (8.69,6) (8.71,8) (8.73,5) (8.75,7) (8.77,6) (8.79,8) (8.81,5) (8.83,7) (8.85,4) (8.87,6) (8.89,5) (8.91,7) (8.93,4) (8.95,6) (8.97,5) (8.99,3) (9.00,3)} \closedcycle;
\end{axis}

% ---------- Panel 5: snow depth ----------
\begin{axis}[panel, at={(110bp,93.7bp)}, height=59.3bp, ymin=0, ymax=100,
  ytick={0,50,100},
  ylabel={\textit{H}\textsubscript{\textit{C}}, см}]
\addplot[hcblue, only marks, mark=x, mark size=2.1bp, mark options={line width=0.7bp}] coordinates {
(0.000,20) (0.010,25) (0.020,28) (0.030,24) (0.040,30) (0.050,38) (0.060,33) (0.070,42) (0.080,40) (0.090,48) (0.100,45) (0.110,55) (0.120,62) (0.130,58) (0.140,60) (0.150,56) (0.160,61) (0.170,58) (0.180,55) (0.190,60) (0.200,52) (0.210,48) (0.220,55) (0.230,45) (0.240,50) (0.250,47) (0.260,53) (0.270,49) (0.280,56) (0.290,52) (0.300,58) (0.310,55) (0.320,60) (0.330,54) (0.340,58) (0.350,50) (0.360,57) (0.370,61) (0.380,55) (0.390,59) (0.400,56) (0.410,60) (0.420,58) (0.425,50) (0.430,35) (0.432,27) (0.435,20) (0.438,10) (0.440,3) (0.445,0)
(0.73,2) (0.745,5) (0.76,3) (0.775,8) (0.79,6) (0.805,10) (0.82,8) (0.835,13) (0.85,11) (0.865,15) (0.88,14) (0.895,18) (0.91,16) (0.925,20) (0.94,22) (0.955,25) (0.97,24) (0.985,28) (1.00,30) (1.015,33) (1.03,35) (1.045,38) (1.06,42) (1.08,46) (1.10,52) (1.12,62) (1.13,65) (1.14,58) (1.15,50) (1.165,44) (1.18,40) (1.195,42) (1.21,39) (1.225,41) (1.24,38) (1.255,41) (1.27,39) (1.285,40) (1.30,37) (1.315,35) (1.33,33) (1.345,30) (1.36,27) (1.375,22) (1.39,16) (1.405,10) (1.42,5) (1.43,0)
(1.74,2) (1.755,6) (1.77,4) (1.785,9) (1.80,7) (1.815,12) (1.83,10) (1.845,18) (1.86,25) (1.875,35) (1.89,40) (1.905,44) (1.92,42) (1.935,46) (1.95,43) (1.965,45) (1.98,42) (1.995,46) (2.01,44) (2.025,47) (2.04,76) (2.045,45) (2.06,43) (2.075,46) (2.09,44) (2.105,47) (2.12,45) (2.135,48) (2.15,46) (2.165,50) (2.18,55) (2.195,58) (2.21,62) (2.22,79) (2.23,60) (2.245,64) (2.26,68) (2.275,72) (2.29,75) (2.305,78) (2.32,82) (2.335,85) (2.35,87) (2.365,84) (2.38,80) (2.395,76) (2.41,72) (2.425,66) (2.44,58) (2.45,45) (2.455,35) (2.46,25) (2.465,15) (2.47,6) (2.475,0)
(2.74,2) (2.755,5) (2.77,8) (2.785,6) (2.80,11) (2.815,14) (2.83,18) (2.845,16) (2.86,22) (2.875,25) (2.89,28) (2.905,26) (2.92,31) (2.935,34) (2.95,32) (2.965,37) (2.98,40) (2.995,38) (3.01,43) (3.025,46) (3.04,44) (3.055,49) (3.07,52) (3.085,50) (3.10,55) (3.115,57) (3.13,55) (3.145,59) (3.16,61) (3.175,58) (3.19,62) (3.205,60) (3.22,63) (3.235,60) (3.25,62) (3.265,59) (3.28,63) (3.295,60) (3.31,62) (3.325,58) (3.34,55) (3.35,45) (3.36,38) (3.37,30) (3.38,25) (3.39,22) (3.40,18) (3.41,20) (3.42,15)
(3.70,2) (3.715,5) (3.73,3) (3.745,7) (3.76,10) (3.775,8) (3.79,13) (3.805,16) (3.82,14) (3.835,19) (3.85,22) (3.865,20) (3.88,24) (3.895,26) (3.91,24) (3.925,29) (3.94,33) (3.955,31) (3.97,42) (3.985,36) (4.00,40) (4.015,44) (4.03,48) (4.045,52) (4.06,50) (4.075,54) (4.09,52) (4.105,55) (4.12,51) (4.135,54) (4.15,52) (4.165,56) (4.18,53) (4.195,57) (4.21,55) (4.225,60) (4.24,66) (4.25,62) (4.265,50) (4.28,43) (4.295,45) (4.31,40) (4.325,44) (4.34,35) (4.355,30) (4.37,25) (4.385,17) (4.40,10) (4.415,5) (4.43,0)
(4.78,2) (4.795,4) (4.81,3) (4.825,6) (4.84,5) (4.855,7) (4.87,6) (4.885,8) (4.90,7) (4.915,9) (4.93,8) (4.945,10) (4.96,9) (4.975,11) (4.99,10) (5.005,12) (5.02,11) (5.035,14) (5.05,18) (5.065,22) (5.08,25) (5.095,28) (5.11,32) (5.125,30) (5.14,42) (5.15,46) (5.16,55) (5.17,62) (5.18,70) (5.19,78) (5.20,82) (5.21,86) (5.22,80) (5.235,84) (5.25,76) (5.265,72) (5.28,70) (5.295,66) (5.31,68) (5.325,63) (5.34,66) (5.355,60) (5.37,64) (5.385,58) (5.40,62) (5.41,55) (5.42,30) (5.425,22) (5.43,17)
(5.74,2) (5.755,5) (5.77,4) (5.785,8) (5.80,11) (5.815,9) (5.83,13) (5.845,15) (5.86,14) (5.875,19) (5.89,22) (5.905,27) (5.92,33) (5.935,40) (5.95,46) (5.965,52) (5.98,56) (5.995,60) (6.01,64) (6.025,68) (6.04,72) (6.055,75) (6.07,80) (6.085,86) (6.10,92) (6.115,95) (6.13,88) (6.145,82) (6.16,78) (6.175,75) (6.19,77) (6.205,74) (6.22,76) (6.235,73) (6.25,77) (6.265,75) (6.28,78) (6.295,76) (6.31,79) (6.325,77) (6.34,80) (6.355,78) (6.37,82) (6.385,80) (6.40,84) (6.41,81) (6.44,59) (6.44,51) (6.44,28) (6.44,8)
(6.77,2) (6.785,5) (6.80,4) (6.815,7) (6.83,9) (6.845,8) (6.86,11) (6.875,13) (6.89,12) (6.905,15) (6.92,14) (6.935,17) (6.95,16) (6.965,19) (6.98,18) (6.995,21) (7.01,20) (7.025,24) (7.04,22) (7.055,27) (7.07,30) (7.085,34) (7.10,40) (7.115,52) (7.13,56) (7.145,54) (7.16,58) (7.175,55) (7.19,62) (7.20,72) (7.21,82) (7.22,90) (7.23,86) (7.245,78) (7.26,82) (7.275,74) (7.29,80) (7.305,72) (7.32,78) (7.335,70) (7.35,76) (7.365,68) (7.38,74) (7.395,66) (7.41,60) (7.42,50) (7.425,40) (7.43,30) (7.435,22) (7.44,14) (7.445,8)
(7.78,2) (7.795,5) (7.81,4) (7.825,8) (7.84,11) (7.855,14) (7.87,18) (7.885,22) (7.90,26) (7.915,30) (7.93,33) (7.945,36) (7.96,40) (7.975,44) (7.99,48) (8.005,52) (8.02,55) (8.035,53) (8.05,56) (8.065,54) (8.08,57) (8.095,55) (8.11,58) (8.125,56) (8.14,59) (8.155,57) (8.17,60) (8.185,62) (8.20,66) (8.215,72) (8.23,78) (8.245,80) (8.26,74) (8.275,65) (8.29,55) (8.305,45) (8.32,35) (8.335,25) (8.35,15) (8.365,8) (8.38,3)
(8.76,2) (8.775,5) (8.79,9) (8.805,13) (8.82,17) (8.835,20) (8.85,24) (8.865,27) (8.88,30) (8.895,32) (8.91,34) (8.925,36) (8.94,35) (8.955,37) (8.97,38) (8.985,36) (9.00,38)};
\end{axis}

% ---------- bottom axis decorations (year ticks, month and year labels) ----------
\begin{axis}[overlay, xtick={0,1,2,3,4,5,6,7,8,9}, xticklabels={}, major tick length=32bp]
\addplot[draw=none] coordinates {(0,0) (9,1)};
\end{axis}
\begin{axis}[overlay, major tick length=0bp,
  xtick={0.25,0.5,0.75,1.25,1.5,1.75,2.25,2.5,2.75,3.25,3.5,3.75,4.25,4.5,4.75,5.25,5.5,5.75,6.25,6.5,6.75,7.25,7.5,7.75,8.25,8.5,8.75},
  xticklabels={4,7,10,4,7,10,4,7,10,4,7,10,4,7,10,4,7,10,4,7,10,4,7,10,4,7,10},
  xticklabel style={font=\arial\bfseries\fontsize{15}{15}\selectfont, yshift=-19bp}]
\addplot[draw=none] coordinates {(0,0) (9,1)};
\end{axis}
\begin{axis}[overlay, major tick length=0bp,
  xtick={0.5,1.5,2.5,3.5,4.5,5.5,6.5,7.5,8.5},
  xticklabels={2012,2013,2014,2015,2016,2017,2018,2019,2020},
  xticklabel style={font=\arial\bfseries\fontsize{19}{19}\selectfont, yshift=-41bp}]
\addplot[draw=none] coordinates {(0,0) (9,1)};
\end{axis}

% short x ticks every 3 months under each panel, and minor y ticks every 10 units
\begin{scope}[black, line width=1.3bp]
\foreach \yb in {597, 520, 265.3, 179, 93.7}{
  \foreach \i in {0,...,36}{
    \pgfmathsetmacro\xx{110+\i*16.55556}
    \draw (\xx bp,\yb bp) -- ++(0,-9.5bp);
  }}
\foreach \yb/\h/\n in {597/66.5/9, 520/52/4, 265.3/228.4/20, 179/59/6, 93.7/59.3/10}{
  \foreach \j in {0,...,\n}{
    \pgfmathsetmacro\yy{\yb+\j*\h/\n}
    \draw (110bp,\yy bp) -- ++(-9.5bp,0);
  }}
\end{scope}
\node[font=\bfseries\fontsize{24}{24}\selectfont] at (408bp,12bp) {Дата};
\end{tikzpicture}
\end{document}
